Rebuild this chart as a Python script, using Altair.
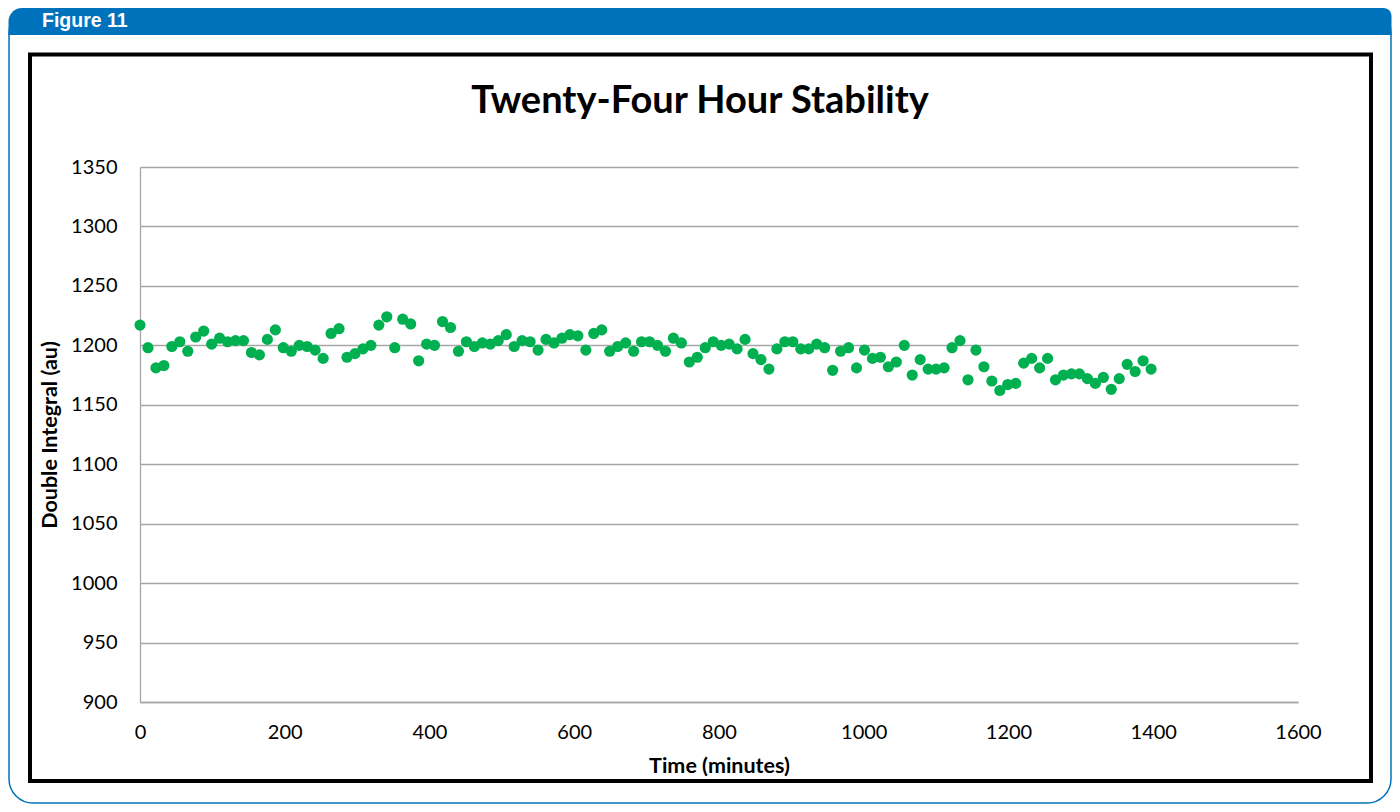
import altair as alt
import pandas as pd

# ---- data ----
time_minutes = [
    0, 11, 22, 33, 44, 55, 66, 77, 88, 99,
    110, 121, 132, 143, 154, 165, 176, 187, 198, 209,
    220, 231, 242, 253, 264, 275, 286, 297, 308, 319,
    330, 341, 352, 363, 374, 385, 396, 407, 418, 429,
    440, 451, 462, 473, 484, 495, 506, 517, 528, 539,
    550, 561, 572, 583, 594, 605, 616, 627, 638, 649,
    660, 671, 682, 693, 704, 715, 726, 737, 748, 759,
    770, 781, 792, 803, 814, 825, 836, 847, 858, 869,
    880, 891, 902, 913, 924, 935, 946, 957, 968, 979,
    990, 1001, 1012, 1023, 1034, 1045, 1056, 1067, 1078, 1089,
    1100, 1111, 1122, 1133, 1144, 1155, 1166, 1177, 1188, 1199,
    1210, 1221, 1232, 1243, 1254, 1265, 1276, 1287, 1298, 1309,
    1320, 1331, 1342, 1353, 1364, 1375, 1386, 1397,
]
double_integral = [
    1217, 1198, 1181, 1183, 1199, 1203, 1195, 1207, 1212, 1201,
    1206, 1203, 1204, 1204, 1194, 1192, 1205, 1213, 1198, 1195,
    1200, 1199, 1196, 1189, 1210, 1214,
    1190, 1193, 1197, 1200, 1217, 1224, 1198, 1222, 1218, 1187,
    1201, 1200, 1220, 1215, 1195, 1203, 1199, 1202, 1201, 1204,
    1209, 1199, 1204, 1203, 1196,
    1205, 1202, 1206, 1209, 1208, 1196, 1210, 1213, 1195, 1199,
    1202, 1195, 1203, 1203, 1200, 1195, 1206, 1202, 1186, 1190,
    1198, 1203, 1200, 1201, 1197, 1205,
    1193, 1188, 1180, 1197, 1203, 1203, 1197, 1197, 1201, 1198,
    1179, 1195, 1198, 1181, 1196, 1189, 1190, 1182, 1186, 1200,
    1175, 1188, 1180, 1180, 1181, 1198,
    1204, 1171, 1196, 1182, 1170, 1162, 1167, 1168, 1185, 1189,
    1181, 1189, 1171, 1175, 1176, 1176, 1172, 1168, 1173, 1163,
    1172, 1184, 1178, 1187, 1180,
]
x_ticks = [0, 200, 400, 600, 800, 1000, 1200, 1400, 1600]
y_ticks = [900, 950, 1000, 1050, 1100, 1150, 1200, 1250, 1300, 1350]

chart_title = "Twenty-Four Hour Stability"
figure_label = "Figure 11"
x_title = "Time (minutes)"
y_title = "Double Integral (au)"

df = pd.DataFrame({"t": time_minutes, "v": double_integral})

FONT = "Lato"
BLUE = "#0072BC"
GRID = "#A6A6A6"
one = alt.Data(values=[{}])

points = alt.Chart(df).mark_circle(size=125, color="#00B050", opacity=1).encode(
    x=alt.X("t:Q", scale=alt.Scale(domain=[0, 1600], nice=False),
            axis=alt.Axis(values=x_ticks, format="d", grid=False, ticks=False,
                          domainColor=GRID, domainWidth=1.3, labelFontSize=20,
                          labelFont=FONT, labelColor="#000000", labelPadding=20,
                          labelFlush=False,
                          title=x_title, titleFont=FONT, titleFontSize=21.5,
                          titleFontWeight="bold", titleColor="#000000",
                          titleX=579, titleY=64, titleBaseline="middle",
                          titleAlign="center")),
    y=alt.Y("v:Q", scale=alt.Scale(domain=[900, 1350], nice=False, zero=False),
            axis=alt.Axis(values=y_ticks, format="d", grid=True, gridColor=GRID,
                          gridWidth=1.3, ticks=False, domainColor=GRID,
                          domainWidth=1.3, labelFontSize=20, labelFont=FONT,
                          labelColor="#000000", labelPadding=23,
                          title=y_title, titleFont=FONT, titleFontSize=21.5,
                          titleFontWeight="bold", titleColor="#000000",
                          titleX=-90, titleY=267.5, titleAngle=-90,
                          titleBaseline="middle", titleAlign="center")),
)

outer = alt.Chart(one).mark_rect(
    fill="#FFFFFF", fillOpacity=0, stroke=BLUE, strokeWidth=1.5,
    cornerRadius=24,
).encode(x=alt.value(-131), x2=alt.value(1251), y=alt.value(-158), y2=alt.value(636))

header = alt.Chart(one).mark_rect(
    fill=BLUE, cornerRadiusTopLeft=24, cornerRadiusTopRight=8,
).encode(x=alt.value(-131.5), x2=alt.value(1251.5), y=alt.value(-159), y2=alt.value(-132))

frame = alt.Chart(one).mark_rect(
    fill="#FFFFFF", fillOpacity=0, stroke="#000000", strokeWidth=4,
).encode(x=alt.value(-110), x2=alt.value(1231), y=alt.value(-112.5), y2=alt.value(614))

header_text = alt.Chart(one).mark_text(
    text=figure_label, font="Liberation Sans", fontSize=19.5, fontWeight="bold",
    color="#FFFFFF", align="left", baseline="middle",
).encode(x=alt.value(-98), y=alt.value(-146))

title_text = alt.Chart(one).mark_text(
    text=chart_title, font=FONT, fontSize=38, fontWeight="bold",
    color="#000000", align="center", baseline="middle",
).encode(x=alt.value(560), y=alt.value(-65))

chart = alt.layer(outer, header, frame, header_text, title_text, points).properties(
    width=1158, height=535,
    autosize=alt.AutoSizeParams(type="none"),
    padding={"left": 132, "top": 159, "right": 94, "bottom": 102},
    background="#FFFFFF",
).configure_view(stroke=None)

chart.save("out.html", embed_options={"renderer": "svg", "actions": False})
